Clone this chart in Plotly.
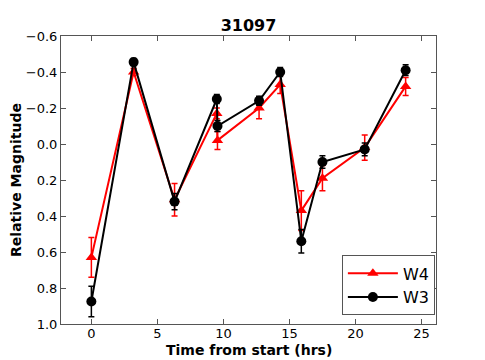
import plotly.graph_objects as go

# W4 (red triangles)
w4_t = [0, 3.2, 6.3, 9.5, 9.55, 12.7, 14.3, 15.9, 17.5, 20.7, 23.8]
w4_mag = [0.63, -0.40, 0.31, -0.17, -0.02, -0.20, -0.33, 0.37, 0.19, 0.02, -0.32]
w4_err = [0.11, 0.02, 0.09, 0.03, 0.05, 0.06, 0.05, 0.11, 0.07, 0.07, 0.05]

# W3 (black circles)
w3_t = [0, 3.2, 6.3, 9.5, 9.55, 12.7, 14.3, 15.9, 17.5, 20.7, 23.8]
w3_mag = [0.875, -0.455, 0.32, -0.25, -0.10, -0.24, -0.40, 0.54, 0.10, 0.03, -0.41]
w3_err = [0.085, 0.02, 0.045, 0.025, 0.03, 0.025, 0.025, 0.065, 0.035, 0.035, 0.03]

fig = go.Figure()

fig.add_trace(go.Scatter(
    x=w4_t, y=w4_mag, name="W4",
    mode="lines+markers",
    line=dict(color="red", width=2),
    marker=dict(symbol="triangle-up", size=10, color="red"),
    error_y=dict(type="data", array=w4_err, color="red", thickness=1.5, width=3)))

fig.add_trace(go.Scatter(
    x=w3_t, y=w3_mag, name="W3",
    mode="lines+markers",
    line=dict(color="black", width=2),
    marker=dict(symbol="circle", size=10, color="black"),
    error_y=dict(type="data", array=w3_err, color="black", thickness=1.5, width=3)))

axis_style = dict(
    showgrid=False, zeroline=False, automargin=False,
    showline=True, linecolor="#555", linewidth=1, mirror="ticks",
    ticks="inside", ticklen=5, tickcolor="#555",
    tickfont=dict(size=13, color="black"))

fig.update_xaxes(range=[-2.3, 26.1], tickvals=[0, 5, 10, 15, 20, 25],
                 ticklabelstandoff=-3,
                 **axis_style)
fig.update_yaxes(range=[1.0, -0.6], tickvals=[-0.6, -0.4, -0.2, 0.0, 0.2, 0.4, 0.6, 0.8, 1.0],
                 tickformat=".1f",
                 title=dict(text="<b>Relative Magnitude</b>", font=dict(size=14, color="black"), standoff=10),
                 **axis_style)

# x title placed by hand, just under the tick labels
fig.add_annotation(text="<b>Time from start (hrs)</b>", xref="paper", yref="paper",
                   x=0.5, y=-0.092, yanchor="middle", showarrow=False,
                   font=dict(size=14, color="black"))

# the page body adds an 8px margin, so the figure is made 8px smaller
fig.update_layout(
    width=477, height=352,
    margin=dict(l=53, r=49, t=28, b=36, autoexpand=False),
    paper_bgcolor="white", plot_bgcolor="white",
    font=dict(family="DejaVu Sans", color="black"),
    title=dict(text="<b>31097</b>", x=0.5, xref="paper", y=0.95, yanchor="middle",
               font=dict(size=16, color="black")),
    showlegend=True,
    legend=dict(x=0.997, y=0.03, xanchor="right", yanchor="bottom",
                bordercolor="#555", borderwidth=1, bgcolor="white",
                itemwidth=50, tracegroupgap=4,
                font=dict(size=16, color="black")))

fig.write_html("out.html")
